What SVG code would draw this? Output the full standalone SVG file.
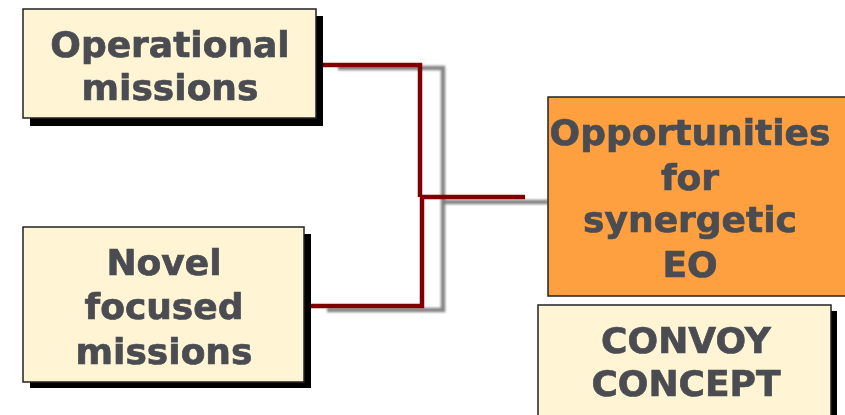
<svg xmlns="http://www.w3.org/2000/svg" width="845" height="415" viewBox="0 0 845 415">
  <style>
    .box { fill: #fff5d5; stroke: #222; stroke-width: 1.5; }
    .shadow { fill: #000; }
    .hot { fill: #ffa040; stroke: #222; stroke-width: 1.5; }
    .lbl { font-family: "DejaVu Sans", Verdana, sans-serif; font-weight: bold; font-size: 36px; fill: #4a4c51; stroke: #4a4c51; stroke-width: 0.7; text-anchor: middle; }
    .wire { fill: none; stroke: #800000; stroke-width: 4.5; }
    .ghost { fill: none; stroke: #7a7a7a; stroke-width: 4.5; opacity: 0.9; }
  </style>
  <defs>
    <filter id="soft" x="-10%" y="-10%" width="120%" height="120%">
      <feGaussianBlur stdDeviation="0.8"/>
    </filter>
  </defs>

  <g id="connectors">
    <!-- grey echo of the bracket -->
    <g filter="url(#soft)">
      <path class="ghost" d="M338 68 H443 V310 H327"/>
      <path class="ghost" d="M443 202 H548"/>
    </g>
    <!-- dark red bracket joining both mission boxes -->
    <path class="wire" d="M316 65 H420 V197"/>
    <path class="wire" d="M304 306 H422 V197"/>
    <path class="wire" d="M420 197 H525"/>
  </g>

  <g id="operational">
    <rect class="shadow" x="30" y="16" width="293" height="110"/>
    <rect class="box" x="23" y="9" width="293" height="109"/>
    <text class="lbl" x="170" y="57">Operational</text>
    <text class="lbl" x="170" y="100">missions</text>
  </g>

  <g id="novel">
    <rect class="shadow" x="30" y="234" width="281" height="154"/>
    <rect class="box" x="23" y="227" width="281" height="155"/>
    <text class="lbl" x="164" y="275">Novel</text>
    <text class="lbl" x="164" y="319">focused</text>
    <text class="lbl" x="164" y="364">missions</text>
  </g>

  <g id="synergetic">
    <rect class="hot" x="548" y="97" width="305" height="199"/>
    <text class="lbl" x="690" y="145">Opportunities</text>
    <text class="lbl" x="690" y="190">for</text>
    <text class="lbl" x="690" y="232">synergetic</text>
    <text class="lbl" x="690" y="277">EO</text>
  </g>

  <g id="convoy">
    <rect class="shadow" x="544" y="311" width="293" height="110"/>
    <rect class="box" x="538" y="305" width="293" height="120"/>
    <text class="lbl" x="686" y="353">CONVOY</text>
    <text class="lbl" x="686" y="396">CONCEPT</text>
  </g>
</svg>
